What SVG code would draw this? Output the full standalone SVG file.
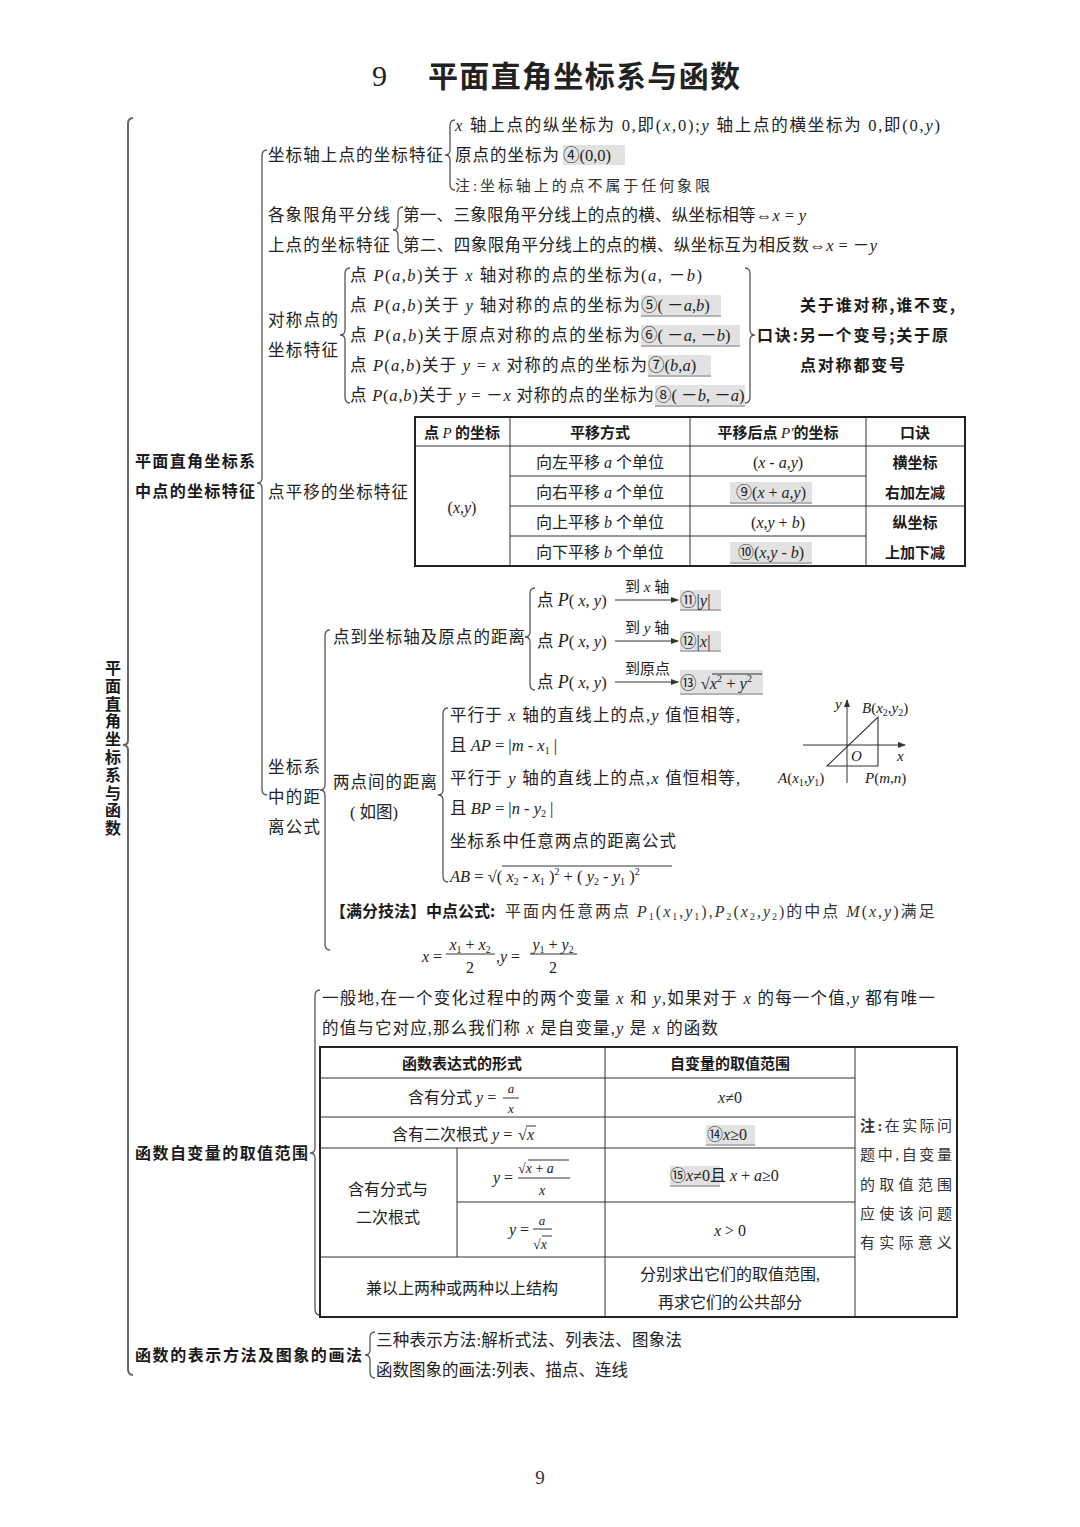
<svg xmlns="http://www.w3.org/2000/svg" width="1080" height="1527" viewBox="0 0 1080 1527">
<defs>
<style>
.t{font-family:"Liberation Serif","Noto Sans CJK SC",serif;font-size:16.5px;fill:#222}
.s{font-size:16px}
.f{font-size:15px}
.k{font-family:"Liberation Serif","Noto Sans CJK SC",serif;font-size:15px;fill:#333}
.b{font-family:"Noto Sans CJK SC",sans-serif;font-weight:bold;font-size:16px;fill:#1a1a1a}
.i{font-style:italic}
.sub{font-size:10px}
.br{fill:none;stroke:#555;stroke-width:1.3}
.br0{fill:none;stroke:#666;stroke-width:2}
.hl{fill:#e2e2e2}
.ul{stroke:#666;stroke-width:1}
.tbo{fill:none;stroke:#222;stroke-width:2}
.ln{stroke:#333;stroke-width:1}
.c{text-anchor:middle}
</style>
<marker id="ah" markerWidth="8" markerHeight="6" refX="7" refY="3" orient="auto" markerUnits="userSpaceOnUse">
<path d="M0,0 L8,3 L0,6 z" fill="#333"/>
</marker>
</defs>
<rect width="1080" height="1527" fill="#fff"/>

<g id="title">
<text x="372" y="86" style="font-family:'Liberation Serif',serif;font-size:30px;fill:#222">9</text>
<text x="428" y="87" textLength="312" style="font-family:'Noto Sans CJK SC',sans-serif;font-size:30px;font-weight:bold;fill:#222">平面直角坐标系与函数</text>
</g>

<g id="connectors">
<path class="br0" d="M133 118 Q128 118 128 124 V740 Q128 745 123 745 Q128 745 128 750 V1369 Q128 1375 133 1375"/>
<path class="br" d="M267 150 Q262 150 262 156 V478 Q262 483 257 483 Q262 483 262 488 V789 Q262 795 267 795"/>
<path class="br" d="M455 120 Q450 120 450 126 V150 Q450 155 445 155 Q450 155 450 160 V184 Q450 190 455 190"/>
<path class="br" d="M403 207 Q398 207 398 213 V225 Q398 230 393 230 Q398 230 398 235 V247 Q398 253 403 253"/>
<path class="br" d="M350 268 Q345 268 345 274 V330 Q345 335 340 335 Q345 335 345 340 V397 Q345 403 350 403"/>
<path class="br" d="M745 268 Q750 268 750 274 V330 Q750 335 755 335 Q750 335 750 340 V397 Q750 403 745 403"/>
<path class="br" d="M330 630 Q325 630 325 636 V785 Q325 790 320 790 Q325 790 325 795 V944 Q325 950 330 950"/>
<path class="br" d="M535 588 Q530 588 530 594 V632 Q530 637 525 637 Q530 637 530 642 V684 Q530 690 535 690"/>
<path class="br" d="M448 708 Q443 708 443 714 V790 Q443 795 438 795 Q443 795 443 800 V876 Q443 882 448 882"/>
<path class="br" d="M320 990 Q315 990 315 996 V1148 Q315 1153 310 1153 Q315 1153 315 1158 V1309 Q315 1315 320 1315"/>
<path class="br" d="M375 1332 Q370 1332 370 1338 V1350 Q370 1355 365 1355 Q370 1355 370 1360 V1372 Q370 1378 375 1378"/>
<line class="ln" x1="615" y1="600" x2="678" y2="600" marker-end="url(#ah)"/>
<line class="ln" x1="615" y1="641" x2="678" y2="641" marker-end="url(#ah)"/>
<line class="ln" x1="615" y1="682" x2="678" y2="682" marker-end="url(#ah)"/>
</g>

<g id="root">
<text class="b" x="113" y="660" style="writing-mode:vertical-rl;letter-spacing:1.8px">平面直角坐标系与函数</text>
</g>

<g id="n-coord">
<text class="b" x="135" y="467" textLength="120">平面直角坐标系</text>
<text class="b" x="135" y="497" textLength="120">中点的坐标特征</text>
</g>

<g id="n-axis">
<text class="t" x="268" y="161" textLength="175">坐标轴上点的坐标特征</text>
<text class="t" x="455" y="131" textLength="485"><tspan class="i">x</tspan> 轴上点的纵坐标为 0,即(<tspan class="i">x</tspan>,0);<tspan class="i">y</tspan> 轴上点的横坐标为 0,即(0,<tspan class="i">y</tspan>)</text>
<rect class="hl" x="563" y="145" width="62" height="20"/>
<text class="t" x="455" y="161" textLength="104">原点的坐标为</text>
<text class="t" x="563" y="161">④(0,0)</text>
<text class="k" x="455" y="191" textLength="255">注:坐标轴上的点不属于任何象限</text>
</g>

<g id="n-bisector">
<text class="t" x="268" y="221" textLength="122">各象限角平分线</text>
<text class="t" x="268" y="251" textLength="122">上点的坐标特征</text>
<text class="t" x="403" y="221" textLength="403">第一、三象限角平分线上的点的横、纵坐标相等⇔<tspan class="i">x</tspan> = <tspan class="i">y</tspan></text>
<text class="t" x="403" y="251" textLength="474">第二、四象限角平分线上的点的横、纵坐标互为相反数⇔<tspan class="i">x</tspan> = －<tspan class="i">y</tspan></text>
</g>

<g id="n-symmetry">
<text class="t" x="268" y="326" textLength="70">对称点的</text>
<text class="t" x="268" y="356" textLength="70">坐标特征</text>
<text class="t" x="350" y="281" textLength="352">点 <tspan class="i">P</tspan>(<tspan class="i">a</tspan>,<tspan class="i">b</tspan>)关于 <tspan class="i">x</tspan> 轴对称的点的坐标为(<tspan class="i">a</tspan>, －<tspan class="i">b</tspan>)</text>
<rect class="hl" x="641" y="295" width="80" height="20"/><line class="ul" x1="641" y1="316" x2="721" y2="316"/>
<text class="t" x="350" y="311" textLength="290">点 <tspan class="i">P</tspan>(<tspan class="i">a</tspan>,<tspan class="i">b</tspan>)关于 <tspan class="i">y</tspan> 轴对称的点的坐标为</text>
<text class="t" x="641" y="311">⑤( －<tspan class="i">a</tspan>,<tspan class="i">b</tspan>)</text>
<rect class="hl" x="641" y="325" width="99" height="20"/><line class="ul" x1="641" y1="346" x2="740" y2="346"/>
<text class="t" x="350" y="341" textLength="290">点 <tspan class="i">P</tspan>(<tspan class="i">a</tspan>,<tspan class="i">b</tspan>)关于原点对称的点的坐标为</text>
<text class="t" x="641" y="341">⑥( －<tspan class="i">a</tspan>, －<tspan class="i">b</tspan>)</text>
<rect class="hl" x="648" y="355" width="63" height="20"/><line class="ul" x1="648" y1="376" x2="711" y2="376"/>
<text class="t" x="350" y="371" textLength="297">点 <tspan class="i">P</tspan>(<tspan class="i">a</tspan>,<tspan class="i">b</tspan>)关于 <tspan class="i">y</tspan> = <tspan class="i">x</tspan> 对称的点的坐标为</text>
<text class="t" x="648" y="371">⑦(<tspan class="i">b</tspan>,<tspan class="i">a</tspan>)</text>
<rect class="hl" x="655" y="385" width="90" height="20"/><line class="ul" x1="655" y1="406" x2="745" y2="406"/>
<text class="t" x="350" y="401" textLength="304">点 <tspan class="i">P</tspan>(<tspan class="i">a</tspan>,<tspan class="i">b</tspan>)关于 <tspan class="i">y</tspan> = －<tspan class="i">x</tspan> 对称的点的坐标为</text>
<text class="t" x="655" y="401">⑧( －<tspan class="i">b</tspan>, －<tspan class="i">a</tspan>)</text>
<text class="b" x="800" y="311" textLength="155">关于谁对称,谁不变,</text>
<text class="b" x="757" y="341" textLength="191">口诀:另一个变号;关于原</text>
<text class="b" x="800" y="371" textLength="105">点对称都变号</text>
</g>

<g id="n-translate">
<text class="t" x="268" y="498" textLength="140">点平移的坐标特征</text>
<rect class="hl" x="730" y="482" width="82" height="20"/><line class="ul" x1="730" y1="503" x2="812" y2="503"/>
<rect class="hl" x="730" y="542" width="82" height="20"/><line class="ul" x1="730" y1="563" x2="812" y2="563"/>
<rect class="tbo" x="415" y="417" width="550" height="149"/>
<line class="ln" x1="415" y1="446" x2="965" y2="446"/>
<line class="ln" x1="510" y1="476" x2="866" y2="476"/>
<line class="ln" x1="510" y1="506" x2="965" y2="506"/>
<line class="ln" x1="510" y1="536" x2="866" y2="536"/>
<line class="ln" x1="510" y1="417" x2="510" y2="566"/>
<line class="ln" x1="690" y1="417" x2="690" y2="566"/>
<line class="ln" x1="866" y1="417" x2="866" y2="566"/>
<text class="b c" x="462" y="438" style="font-size:15px">点 <tspan class="i" style="font-family:'Liberation Serif',serif;font-weight:normal">P</tspan> 的坐标</text>
<text class="b c" x="600" y="438" style="font-size:15px">平移方式</text>
<text class="b c" x="778" y="438" style="font-size:15px">平移后点 <tspan class="i" style="font-family:'Liberation Serif',serif;font-weight:normal">P′</tspan>的坐标</text>
<text class="b c" x="915" y="438" style="font-size:15px">口诀</text>
<text class="t s c" x="462" y="513">(<tspan class="i">x</tspan>,<tspan class="i">y</tspan>)</text>
<text class="t s c" x="600" y="468">向左平移 <tspan class="i">a</tspan> 个单位</text>
<text class="t s c" x="600" y="498">向右平移 <tspan class="i">a</tspan> 个单位</text>
<text class="t s c" x="600" y="528">向上平移 <tspan class="i">b</tspan> 个单位</text>
<text class="t s c" x="600" y="558">向下平移 <tspan class="i">b</tspan> 个单位</text>
<text class="t s c" x="778" y="468">(<tspan class="i">x</tspan> - <tspan class="i">a</tspan>,<tspan class="i">y</tspan>)</text>
<text class="t s c" x="771" y="498">⑨(<tspan class="i">x</tspan> + <tspan class="i">a</tspan>,<tspan class="i">y</tspan>)</text>
<text class="t s c" x="778" y="528">(<tspan class="i">x</tspan>,<tspan class="i">y</tspan> + <tspan class="i">b</tspan>)</text>
<text class="t s c" x="771" y="558">⑩(<tspan class="i">x</tspan>,<tspan class="i">y</tspan> - <tspan class="i">b</tspan>)</text>
<text class="b c" x="915" y="468" style="font-size:15px">横坐标</text>
<text class="b c" x="915" y="498" style="font-size:15px">右加左减</text>
<text class="b c" x="915" y="528" style="font-size:15px">纵坐标</text>
<text class="b c" x="915" y="558" style="font-size:15px">上加下减</text>
</g>

<g id="n-distance">
<text class="t" x="268" y="773" textLength="52">坐标系</text>
<text class="t" x="268" y="803" textLength="52">中的距</text>
<text class="t" x="268" y="833" textLength="52">离公式</text>
</g>

<g id="n-point-axis">
<text class="t" x="333" y="643" textLength="192">点到坐标轴及原点的距离</text>
<text class="t" x="537" y="606">点 <tspan class="i" style="font-size:18px">P</tspan>( <tspan class="i">x</tspan>, <tspan class="i">y</tspan>)</text>
<text class="t" x="537" y="647">点 <tspan class="i" style="font-size:18px">P</tspan>( <tspan class="i">x</tspan>, <tspan class="i">y</tspan>)</text>
<text class="t" x="537" y="688">点 <tspan class="i" style="font-size:18px">P</tspan>( <tspan class="i">x</tspan>, <tspan class="i">y</tspan>)</text>
<text class="t f" x="625" y="592">到 <tspan class="i">x</tspan> 轴</text>
<text class="t f" x="625" y="633">到 <tspan class="i">y</tspan> 轴</text>
<text class="t f" x="625" y="674">到原点</text>
<rect class="hl" x="680" y="590" width="41" height="19"/><line class="ul" x1="680" y1="610" x2="721" y2="610"/>
<rect class="hl" x="680" y="631" width="41" height="19"/><line class="ul" x1="680" y1="651" x2="721" y2="651"/>
<rect class="hl" x="680" y="670" width="83" height="23"/><line class="ul" x1="680" y1="694" x2="763" y2="694"/>
<text class="t" x="680" y="606">⑪|<tspan class="i">y</tspan>|</text>
<text class="t" x="680" y="647">⑫|<tspan class="i">x</tspan>|</text>
<text class="t" x="680" y="689">⑬ √<tspan class="i">x</tspan><tspan class="sub" dy="-7">2</tspan><tspan dy="7"> + </tspan><tspan class="i">y</tspan><tspan class="sub" dy="-7">2</tspan></text>
<line class="ln" x1="712" y1="674" x2="762" y2="674"/>
</g>

<g id="n-two-points">
<text class="t" x="333" y="788" textLength="104">两点间的距离</text>
<text class="t" x="350" y="818">( 如图)</text>
<text class="t" x="450" y="721" textLength="290">平行于 <tspan class="i">x</tspan> 轴的直线上的点,<tspan class="i">y</tspan> 值恒相等,</text>
<text class="t" x="450" y="751">且 <tspan class="i">AP</tspan> = |<tspan class="i">m</tspan> - <tspan class="i">x</tspan><tspan class="sub" dy="3">1</tspan><tspan dy="-3"> |</tspan></text>
<text class="t" x="450" y="784" textLength="290">平行于 <tspan class="i">y</tspan> 轴的直线上的点,<tspan class="i">x</tspan> 值恒相等,</text>
<text class="t" x="450" y="814">且 <tspan class="i">BP</tspan> = |<tspan class="i">n</tspan> - <tspan class="i">y</tspan><tspan class="sub" dy="3">2</tspan><tspan dy="-3"> |</tspan></text>
<text class="t" x="450" y="847" textLength="226">坐标系中任意两点的距离公式</text>
<text class="t" x="450" y="882"><tspan class="i">AB</tspan> = √( <tspan class="i">x</tspan><tspan class="sub" dy="3">2</tspan><tspan dy="-3"> - </tspan><tspan class="i">x</tspan><tspan class="sub" dy="3">1</tspan><tspan dy="-3"> )</tspan><tspan class="sub" dy="-7">2</tspan><tspan dy="7"> + ( </tspan><tspan class="i">y</tspan><tspan class="sub" dy="3">2</tspan><tspan dy="-3"> - </tspan><tspan class="i">y</tspan><tspan class="sub" dy="3">1</tspan><tspan dy="-3"> )</tspan><tspan class="sub" dy="-7">2</tspan></text>
<line class="ln" x1="502" y1="866" x2="672" y2="866"/>
</g>

<g id="n-figure">
<line class="ln" x1="847" y1="783" x2="847" y2="700" marker-end="url(#ah)"/>
<line class="ln" x1="803" y1="745" x2="905" y2="745" marker-end="url(#ah)"/>
<path d="M827 766 L878 717 L878 766 Z" fill="none" stroke="#333" stroke-width="1.1"/>
<text class="t f i" x="835" y="709">y</text>
<text class="t f i" x="897" y="761">x</text>
<text class="t f i" x="851" y="761">O</text>
<text class="t f" x="862" y="713"><tspan class="i">B</tspan>(<tspan class="i">x</tspan><tspan class="sub" dy="3">2</tspan><tspan dy="-3">,</tspan><tspan class="i">y</tspan><tspan class="sub" dy="3">2</tspan><tspan dy="-3">)</tspan></text>
<text class="t f" x="778" y="783"><tspan class="i">A</tspan>(<tspan class="i">x</tspan><tspan class="sub" dy="3">1</tspan><tspan dy="-3">,</tspan><tspan class="i">y</tspan><tspan class="sub" dy="3">1</tspan><tspan dy="-3">)</tspan></text>
<text class="t f" x="865" y="783"><tspan class="i">P</tspan>(<tspan class="i">m</tspan>,<tspan class="i">n</tspan>)</text>
</g>

<g id="n-midpoint">
<text class="b" x="330" y="917">【满分技法】中点公式:</text>
<text class="k" x="505" y="917" style="font-size:16px;letter-spacing:2px">平面内任意两点 <tspan class="i">P</tspan><tspan class="sub" dy="3">1</tspan><tspan dy="-3">(</tspan><tspan class="i">x</tspan><tspan class="sub" dy="3">1</tspan><tspan dy="-3">,</tspan><tspan class="i">y</tspan><tspan class="sub" dy="3">1</tspan><tspan dy="-3">),</tspan><tspan class="i">P</tspan><tspan class="sub" dy="3">2</tspan><tspan dy="-3">(</tspan><tspan class="i">x</tspan><tspan class="sub" dy="3">2</tspan><tspan dy="-3">,</tspan><tspan class="i">y</tspan><tspan class="sub" dy="3">2</tspan><tspan dy="-3">)的中点 </tspan><tspan class="i">M</tspan>(<tspan class="i">x</tspan>,<tspan class="i">y</tspan>)满足</text>
<text class="t s" x="422" y="962"><tspan class="i">x</tspan> =</text>
<text class="t s c" x="470" y="950"><tspan class="i">x</tspan><tspan class="sub" dy="3">1</tspan><tspan dy="-3"> + </tspan><tspan class="i">x</tspan><tspan class="sub" dy="3">2</tspan></text>
<line class="ln" x1="446" y1="954" x2="495" y2="954"/>
<text class="t s c" x="470" y="973">2</text>
<text class="t s" x="496" y="962">,<tspan class="i">y</tspan> =</text>
<text class="t s c" x="553" y="950"><tspan class="i">y</tspan><tspan class="sub" dy="3">1</tspan><tspan dy="-3"> + </tspan><tspan class="i">y</tspan><tspan class="sub" dy="3">2</tspan></text>
<line class="ln" x1="530" y1="954" x2="577" y2="954"/>
<text class="t s c" x="553" y="973">2</text>
</g>

<g id="n-domain">
<text class="b" x="135" y="1159" textLength="173">函数自变量的取值范围</text>
<text class="t" x="322" y="1004" textLength="613">一般地,在一个变化过程中的两个变量 <tspan class="i">x</tspan> 和 <tspan class="i">y</tspan>,如果对于 <tspan class="i">x</tspan> 的每一个值,<tspan class="i">y</tspan> 都有唯一</text>
<text class="t" x="322" y="1034" textLength="396">的值与它对应,那么我们称 <tspan class="i">x</tspan> 是自变量,<tspan class="i">y</tspan> 是 <tspan class="i">x</tspan> 的函数</text>
<rect class="hl" x="706" y="1125" width="49" height="19"/><line class="ul" x1="706" y1="1145" x2="755" y2="1145"/>
<rect class="hl" x="670" y="1166" width="50" height="19"/><line class="ul" x1="670" y1="1186" x2="720" y2="1186"/>
<rect class="tbo" x="320" y="1047" width="637" height="270"/>
<line class="ln" x1="605" y1="1047" x2="605" y2="1317"/>
<line class="ln" x1="855" y1="1047" x2="855" y2="1317"/>
<line class="ln" x1="457" y1="1148" x2="457" y2="1257"/>
<line class="ln" x1="320" y1="1078" x2="855" y2="1078"/>
<line class="ln" x1="320" y1="1117" x2="855" y2="1117"/>
<line class="ln" x1="320" y1="1148" x2="855" y2="1148"/>
<line class="ln" x1="457" y1="1202" x2="855" y2="1202"/>
<line class="ln" x1="320" y1="1257" x2="855" y2="1257"/>
<text class="b c" x="462" y="1069" style="font-size:15px">函数表达式的形式</text>
<text class="b c" x="730" y="1069" style="font-size:15px">自变量的取值范围</text>
<text class="t s" x="408" y="1103">含有分式 <tspan class="i">y</tspan> =</text>
<text class="t i c" x="511" y="1093" style="font-size:13px">a</text>
<line class="ln" x1="503" y1="1098" x2="519" y2="1098"/>
<text class="t i c" x="511" y="1113" style="font-size:13px">x</text>
<text class="t s c" x="730" y="1103"><tspan class="i">x</tspan>≠0</text>
<text class="t s" x="392" y="1140">含有二次根式 <tspan class="i">y</tspan> =</text>
<text class="t s" x="518" y="1140">√</text>
<text class="t s i" x="527" y="1140">x</text>
<line class="ln" x1="526" y1="1126" x2="536" y2="1126"/>
<text class="t s" x="707" y="1140">⑭<tspan class="i">x</tspan>≥0</text>
<text class="t s c" x="388" y="1195">含有分式与</text>
<text class="t s c" x="388" y="1223">二次根式</text>
<text class="t s" x="493" y="1183"><tspan class="i">y</tspan> =</text>
<text class="t" x="518" y="1173" style="font-size:14px">√<tspan class="i">x</tspan> + <tspan class="i">a</tspan></text>
<line class="ln" x1="528" y1="1160" x2="569" y2="1160"/>
<line class="ln" x1="518" y1="1178" x2="570" y2="1178"/>
<text class="t i c" x="542" y="1195" style="font-size:14px">x</text>
<text class="t s" x="670" y="1181">⑮<tspan class="i">x</tspan>≠0且 <tspan class="i">x</tspan> + <tspan class="i">a</tspan>≥0</text>
<text class="t s" x="509" y="1235"><tspan class="i">y</tspan> =</text>
<text class="t i c" x="542" y="1225" style="font-size:13px">a</text>
<line class="ln" x1="533" y1="1229" x2="552" y2="1229"/>
<text class="t" x="533" y="1249" style="font-size:14px">√<tspan class="i">x</tspan></text>
<line class="ln" x1="542" y1="1236" x2="552" y2="1236"/>
<text class="t s c" x="730" y="1236"><tspan class="i">x</tspan> &gt; 0</text>
<text class="t s c" x="462" y="1294">兼以上两种或两种以上结构</text>
<text class="t s c" x="730" y="1280">分别求出它们的取值范围,</text>
<text class="t s c" x="730" y="1308">再求它们的公共部分</text>
<text class="k" x="860" y="1131" textLength="92"><tspan style="font-weight:bold">注:</tspan>在实际问</text>
<text class="k" x="860" y="1160" textLength="92">题中,自变量</text>
<text class="k" x="860" y="1190" textLength="92">的取值范围</text>
<text class="k" x="860" y="1219" textLength="92">应使该问题</text>
<text class="k" x="860" y="1248" textLength="92">有实际意义</text>
</g>

<g id="n-represent">
<text class="b" x="135" y="1361" textLength="227">函数的表示方法及图象的画法</text>
<text class="t" x="376" y="1346" textLength="306">三种表示方法:解析式法、列表法、图象法</text>
<text class="t" x="376" y="1376" textLength="252">函数图象的画法:列表、描点、连线</text>
</g>

<g id="page-number">
<text class="c" x="540" y="1484" style="font-family:'Liberation Serif',serif;font-size:19px;fill:#333">9</text>
</g>
</svg>
